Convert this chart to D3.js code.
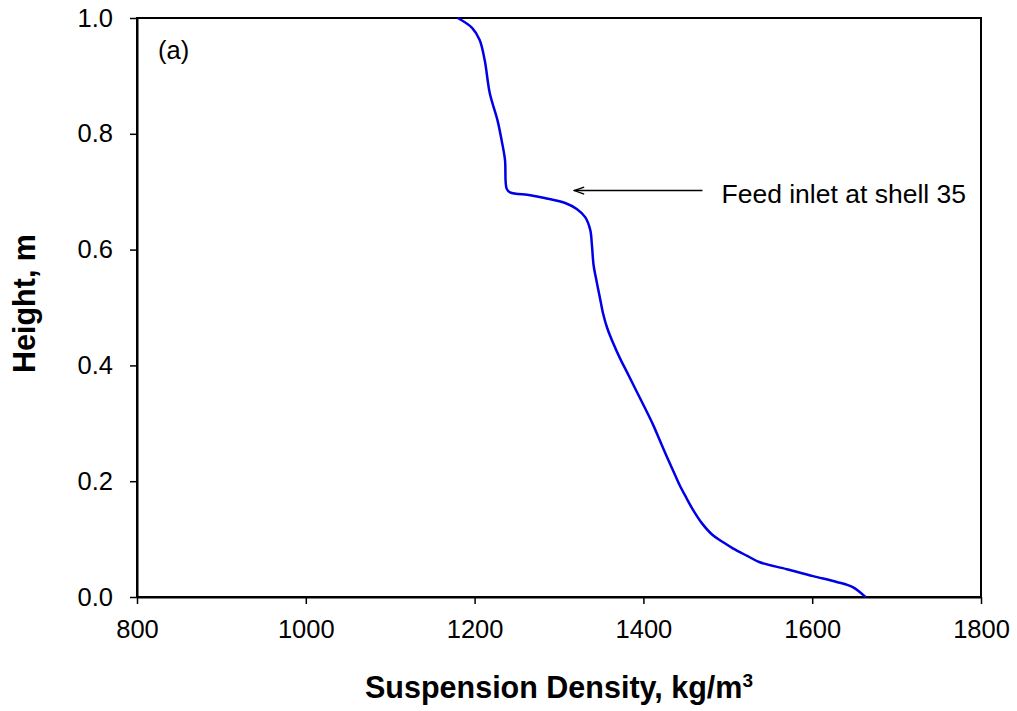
<!DOCTYPE html>
<html>
<head>
<meta charset="utf-8">
<script src="https://cdn.jsdelivr.net/npm/d3@7"></script>
<style>
  body { margin: 0; background: #fff; }
  text { font-family: "Liberation Sans", Arial, sans-serif; fill: #000; }
</style>
</head>
<body>
<div id="chart"></div>
<script>
// suspension density (kg/m3) vs height (m)
const density = [1180, 1197, 1206, 1212, 1218, 1227, 1232, 1236, 1238, 1242, 1266, 1283, 1308, 1321,
  1331, 1337, 1339, 1341, 1345, 1349, 1352, 1357, 1364, 1372, 1381, 1392, 1402, 1411, 1419, 1427,
  1435, 1443, 1451, 1459, 1469, 1482, 1494, 1506, 1523, 1538, 1570, 1601, 1629, 1648, 1663];
const height = [1.000, 0.983, 0.962, 0.927, 0.870, 0.824, 0.789, 0.755, 0.705, 0.699, 0.694, 0.689, 0.680, 0.670,
  0.656, 0.634, 0.608, 0.573, 0.542, 0.513, 0.491, 0.465, 0.439, 0.413, 0.387, 0.355, 0.326, 0.299, 0.272, 0.245,
  0.219, 0.193, 0.171, 0.150, 0.128, 0.107, 0.095, 0.084, 0.071, 0.060, 0.048, 0.036, 0.026, 0.017, 0.000];
const xTicks = [800, 1000, 1200, 1400, 1600, 1800];
const yTicks = [0, 0.2, 0.4, 0.6, 0.8, 1.0];
const feedLabel = 'Feed inlet at shell 35';
const feedArrow = { from: 1470, to: 1318, h: 0.702 };

const W = 1017, H = 711;
const margin = { top: 18, right: 36, bottom: 114, left: 137 };

const svg = d3.select('#chart').append('svg')
  .attr('width', W)
  .attr('height', H);

const x = d3.scaleLinear().domain([800, 1800]).range([margin.left, W - margin.right]);
const y = d3.scaleLinear().domain([0, 1]).range([H - margin.bottom, margin.top]);

const data = density.map((d, i) => ({ d: d, h: height[i] }));

// frame
svg.append('rect')
  .attr('x', x(800)).attr('y', y(1))
  .attr('width', x(1800) - x(800)).attr('height', y(0) - y(1))
  .attr('fill', 'none').attr('stroke', '#000').attr('stroke-width', 2);

const xAxis = svg.append('g')
  .attr('transform', 'translate(0,' + y(0) + ')')
  .call(d3.axisBottom(x).tickValues(xTicks).tickSize(7).tickSizeOuter(0).tickFormat(d3.format('d')));
const yAxis = svg.append('g')
  .attr('transform', 'translate(' + x(800) + ',0)')
  .call(d3.axisLeft(y).tickValues(yTicks).tickSize(7).tickSizeOuter(0).tickFormat(d3.format('.1f')));

[xAxis, yAxis].forEach(g => {
  g.select('.domain').attr('stroke', '#000').attr('stroke-width', 2);
  g.selectAll('.tick line').attr('stroke', '#000').attr('stroke-width', 1.5);
  g.selectAll('.tick text').style('font-size', '25.5px').style('font-family', '"Liberation Sans", Arial, sans-serif');
});
xAxis.selectAll('.tick text').attr('y', 23);
yAxis.selectAll('.tick text').attr('x', -24);

const line = d3.line()
  .x(d => x(d.d))
  .y(d => y(d.h))
  .curve(d3.curveCatmullRom.alpha(0.5));

svg.append('path')
  .datum(data)
  .attr('fill', 'none')
  .attr('stroke', '#0000e6')
  .attr('stroke-width', 2.5)
  .attr('d', line);

// annotation arrow, head at the curve end
svg.append('defs').append('marker')
  .attr('id', 'arr')
  .attr('viewBox', '0 0 12 10')
  .attr('refX', 11).attr('refY', 5)
  .attr('markerWidth', 12).attr('markerHeight', 10)
  .attr('markerUnits', 'userSpaceOnUse')
  .attr('orient', 'auto')
  .append('path')
  .attr('d', 'M1,1.5 L11,5 L1,8.5')
  .attr('fill', 'none').attr('stroke', '#000').attr('stroke-width', 1.4);

svg.append('line')
  .attr('x1', x(feedArrow.from)).attr('x2', x(feedArrow.to))
  .attr('y1', y(feedArrow.h)).attr('y2', y(feedArrow.h))
  .attr('stroke', '#000').attr('stroke-width', 1.4)
  .attr('marker-end', 'url(#arr)');

svg.append('text')
  .attr('x', x(feedArrow.from) + 19)
  .attr('y', y(feedArrow.h) + 12)
  .style('font-size', '26.5px')
  .text(feedLabel);

svg.append('text')
  .attr('x', 158).attr('y', 59)
  .style('font-size', '25.5px')
  .text('(a)');

// axis titles
const xt = svg.append('text')
  .attr('x', (x(800) + x(1800)) / 2)
  .attr('y', 698)
  .attr('text-anchor', 'middle')
  .style('font-size', '30.5px').style('font-weight', 'bold');
xt.append('tspan').text('Suspension Density, kg/m');
xt.append('tspan').attr('dy', -11).style('font-size', '19px').text('3');

svg.append('text')
  .attr('transform', 'translate(35,' + ((y(0) + y(1)) / 2 - 4) + ') rotate(-90)')
  .attr('text-anchor', 'middle')
  .style('font-size', '30.5px').style('font-weight', 'bold')
  .text('Height, m');
</script>
</body>
</html>
